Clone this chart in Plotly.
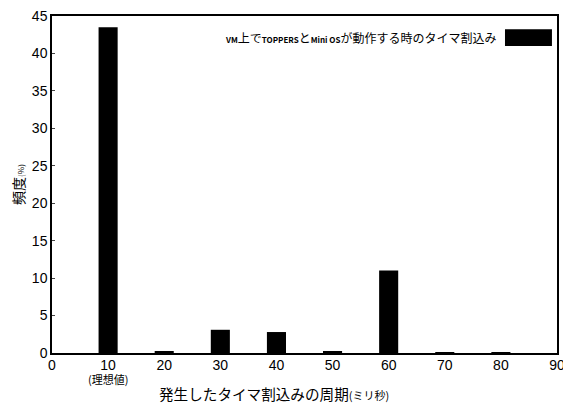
import plotly.graph_objects as go

periods = [10, 20, 30, 40, 50, 60, 70, 80]
freq = [43.5, 0.2, 3.1, 2.8, 0.2, 11.0, 0.12, 0.05]
xticks = [0, 10, 20, 30, 40, 50, 60, 70, 80, 90]
yticks = [0, 5, 10, 15, 20, 25, 30, 35, 40, 45]
ideal_note = "(理想値)"
x_title = "発生したタイマ割込みの周期<span style='font-size:11px'>(ミリ秒)</span>"
series_name = ("<span style='font-size:8px'><b>VM</b></span>上で<span style='font-size:8px'><b>TOPPERS</b></span>"
               "と<span style='font-size:8px'><b>Mini OS</b></span>が動作する時のタイマ割込み")

jp = "Noto Sans CJK JP"
num = "Liberation Sans"

fig = go.Figure()
fig.add_trace(go.Bar(x=periods, y=freq, width=3.4, marker=dict(color="black", line=dict(width=0)),
                     name=series_name, showlegend=False))

# page body has an 8px margin, so the figure is sized/offset to keep the plot area in place
fig.update_layout(
    width=563, height=395,
    margin=dict(l=44, r=14, t=8, b=50),
    plot_bgcolor="white", paper_bgcolor="white",
    font=dict(family=num, size=13, color="black"),
    xaxis=dict(range=[0, 90], tickvals=xticks, showline=True, linecolor="black",
               linewidth=1.5, mirror=True, ticks="", showgrid=False, zeroline=False, automargin=False,
               ticklabeloverflow="allow", ticklabelstandoff=-2, tickfont=dict(family=num, size=14)),
    yaxis=dict(range=[0, 45], tickvals=yticks, showline=True, linecolor="black", linewidth=1.5,
               mirror=True, ticks="inside", ticklen=3, showgrid=False, zeroline=False, automargin=False,
               ticklabeloverflow="allow", tickfont=dict(family=num, size=14),
               title=dict(text="頻度<span style='font-size:8px'>(%)</span>", font=dict(family=jp, size=14),
                          standoff=6)),
)

fig.add_annotation(xref="x", yref="paper", x=xticks[1], y=0, yshift=-26, xanchor="center", yanchor="middle",
                   text=ideal_note, showarrow=False, font=dict(family=jp, size=11, color="black"))
fig.add_annotation(xref="paper", yref="paper", x=0.44, y=0, yshift=-40, xanchor="center", yanchor="middle",
                   text=x_title, showarrow=False, font=dict(family=jp, size=14.6, color="black"))
fig.add_annotation(xref="paper", yref="paper", x=0.883, y=0.936, xanchor="right", yanchor="middle",
                   text=series_name, showarrow=False, font=dict(family=jp, size=12, color="black"))
fig.add_shape(type="rect", xref="paper", yref="paper", x0=0.897, x1=0.99, y0=0.911, y1=0.961,
              fillcolor="black", line=dict(width=0))

fig.write_html("out.html")
